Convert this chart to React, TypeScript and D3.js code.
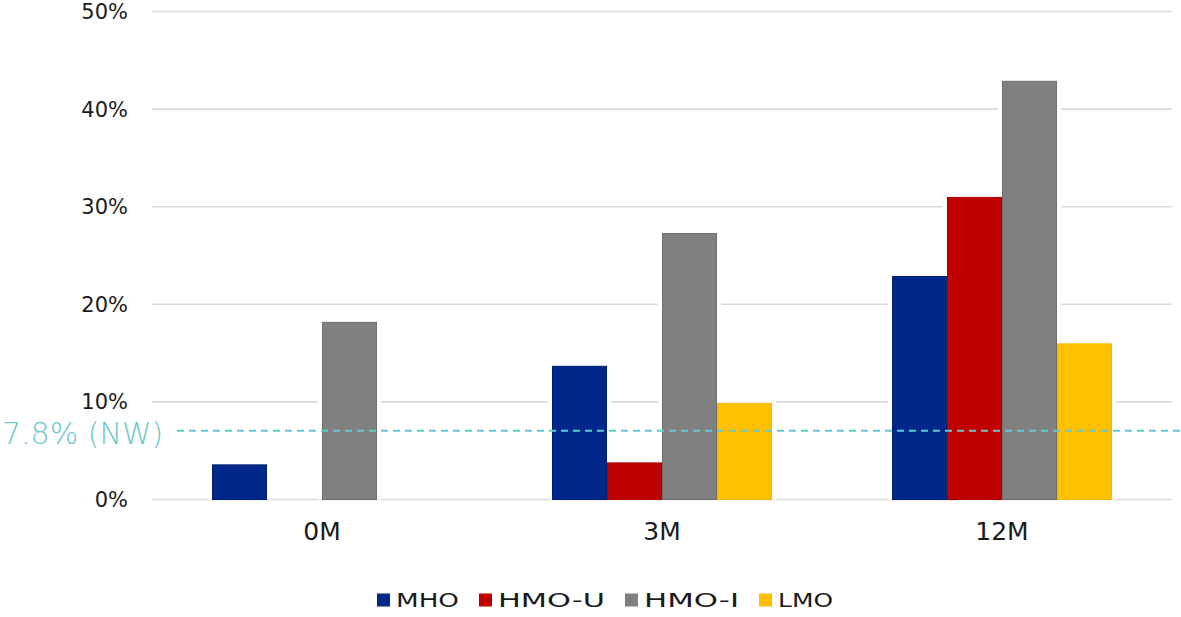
import React, { useEffect } from "react";
import * as d3 from "d3";

const categories = ["0M", "3M", "12M"];
const seriesNames = ["MHO", "HMO-U", "HMO-I", "LMO"];
const seriesColors = ["#00288A", "#C00000", "#808080", "#FFC000"];
const seriesStrokes = ["#001E70", "#B00000", "#6E6E6E", "#F5B800"];
const mhoValues = [3.6, 13.7, 22.9];
const hmoUValues = [0, 3.8, 31.0];
const hmoIValues = [18.2, 27.3, 42.9];
const lmoValues = [0, 9.9, 16.0];
const yTicks = [0, 10, 20, 30, 40, 50];
const nwLineValue = 7.05;
const nwLabel = "7.8% (NW)";
const legendTextWidths = [63, 107, 95, 55];

const W = 1181;
const H = 617;

export default function App() {
  useEffect(() => {
    document.body.style.margin = "0";
  }, []);

  const seriesValues = [mhoValues, hmoUValues, hmoIValues, lmoValues];
  const y = d3.scaleLinear().domain([0, 50]).range([499.5, 11.5]);
  const x0 = d3
    .scaleBand<string>()
    .domain(categories)
    .range([152, 1172])
    .paddingInner(0.353)
    .paddingOuter(0.1765);
  const x1 = d3
    .scaleBand<string>()
    .domain(seriesNames)
    .range([0, x0.bandwidth()])
    .padding(0);

  const bars: { key: string; x: number; y: number; w: number; h: number; fill: string; stroke: string }[] = [];
  seriesNames.forEach((s, si) => {
    categories.forEach((c, ci) => {
      const v = seriesValues[si][ci];
      if (!v) return;
      const bx = (x0(c) ?? 0) + (x1(s) ?? 0);
      bars.push({
        key: s + c,
        x: bx,
        y: y(v),
        w: x1.bandwidth(),
        h: y(0) - y(v),
        fill: seriesColors[si],
        stroke: seriesStrokes[si],
      });
    });
  });

  // legend layout
  const sq = 13;
  const gapText = 6;
  const gapItem = 20;
  const itemWidths = legendTextWidths.map((tw, i) => sq + gapText + tw + (i < legendTextWidths.length - 1 ? gapItem : 0));
  const total = d3.sum(itemWidths);
  const legendStart = 605 - total / 2;
  const legendX = itemWidths.map((_, i) => legendStart + d3.sum(itemWidths.slice(0, i)));

  const font = "'DejaVu Sans', 'Liberation Sans', Arial, sans-serif";

  return (
    <svg width={W} height={H} viewBox={`0 0 ${W} ${H}`} style={{ display: "block", background: "#fff" }}>
      {/* gridlines */}
      {yTicks.map((t) => (
        <line key={"g" + t} x1={152} x2={1172} y1={y(t)} y2={y(t)} stroke="#d9d9d9" strokeWidth={1.6} />
      ))}
      {/* tick labels */}
      {yTicks.map((t) => (
        <text
          key={"t" + t}
          x={128}
          y={y(t)}
          dy="0.36em"
          textAnchor="end"
          fontFamily={font}
          fontSize={21}
          fill="#1a1a1a"
        >
          {t + "%"}
        </text>
      ))}
      {/* bar halos */}
      {bars.map((b) => (
        <rect key={"h" + b.key} x={b.x - 4} y={b.y - 4} width={b.w + 8} height={b.h + 4} fill="#fff" />
      ))}
      {/* bars */}
      {bars.map((b) => (
        <rect
          key={b.key}
          x={b.x + 0.5}
          y={b.y + 0.5}
          width={b.w - 1}
          height={b.h - 0.5}
          fill={b.fill}
          stroke={b.stroke}
          strokeWidth={1}
        />
      ))}
      {/* NW reference line */}
      <line
        x1={177}
        x2={W}
        y1={y(nwLineValue)}
        y2={y(nwLineValue)}
        stroke="#5FCAD0"
        strokeWidth={2}
        strokeDasharray="7,5"
      />
      <text x={2} y={444} textAnchor="start" fontFamily={font} fontSize={30} fontWeight={300} fill="#6CC8C9">
        {nwLabel}
      </text>
      {/* x labels */}
      {categories.map((c) => (
        <text
          key={"x" + c}
          x={(x0(c) ?? 0) + x0.bandwidth() / 2}
          y={540}
          textAnchor="middle"
          fontFamily={font}
          fontSize={25}
          fill="#1a1a1a"
        >
          {c}
        </text>
      ))}
      {/* legend */}
      {seriesNames.map((s, i) => (
        <g key={"l" + s} transform={`translate(${legendX[i]},0)`}>
          <rect x={0} y={593.5} width={sq} height={sq} fill={seriesColors[i]} />
          <text
            x={sq + gapText}
            y={607}
            fontFamily={font}
            fontSize={19.5}
            fill="#1a1a1a"
            textLength={legendTextWidths[i]}
            lengthAdjust="spacingAndGlyphs"
          >
            {s}
          </text>
        </g>
      ))}
    </svg>
  );
}
